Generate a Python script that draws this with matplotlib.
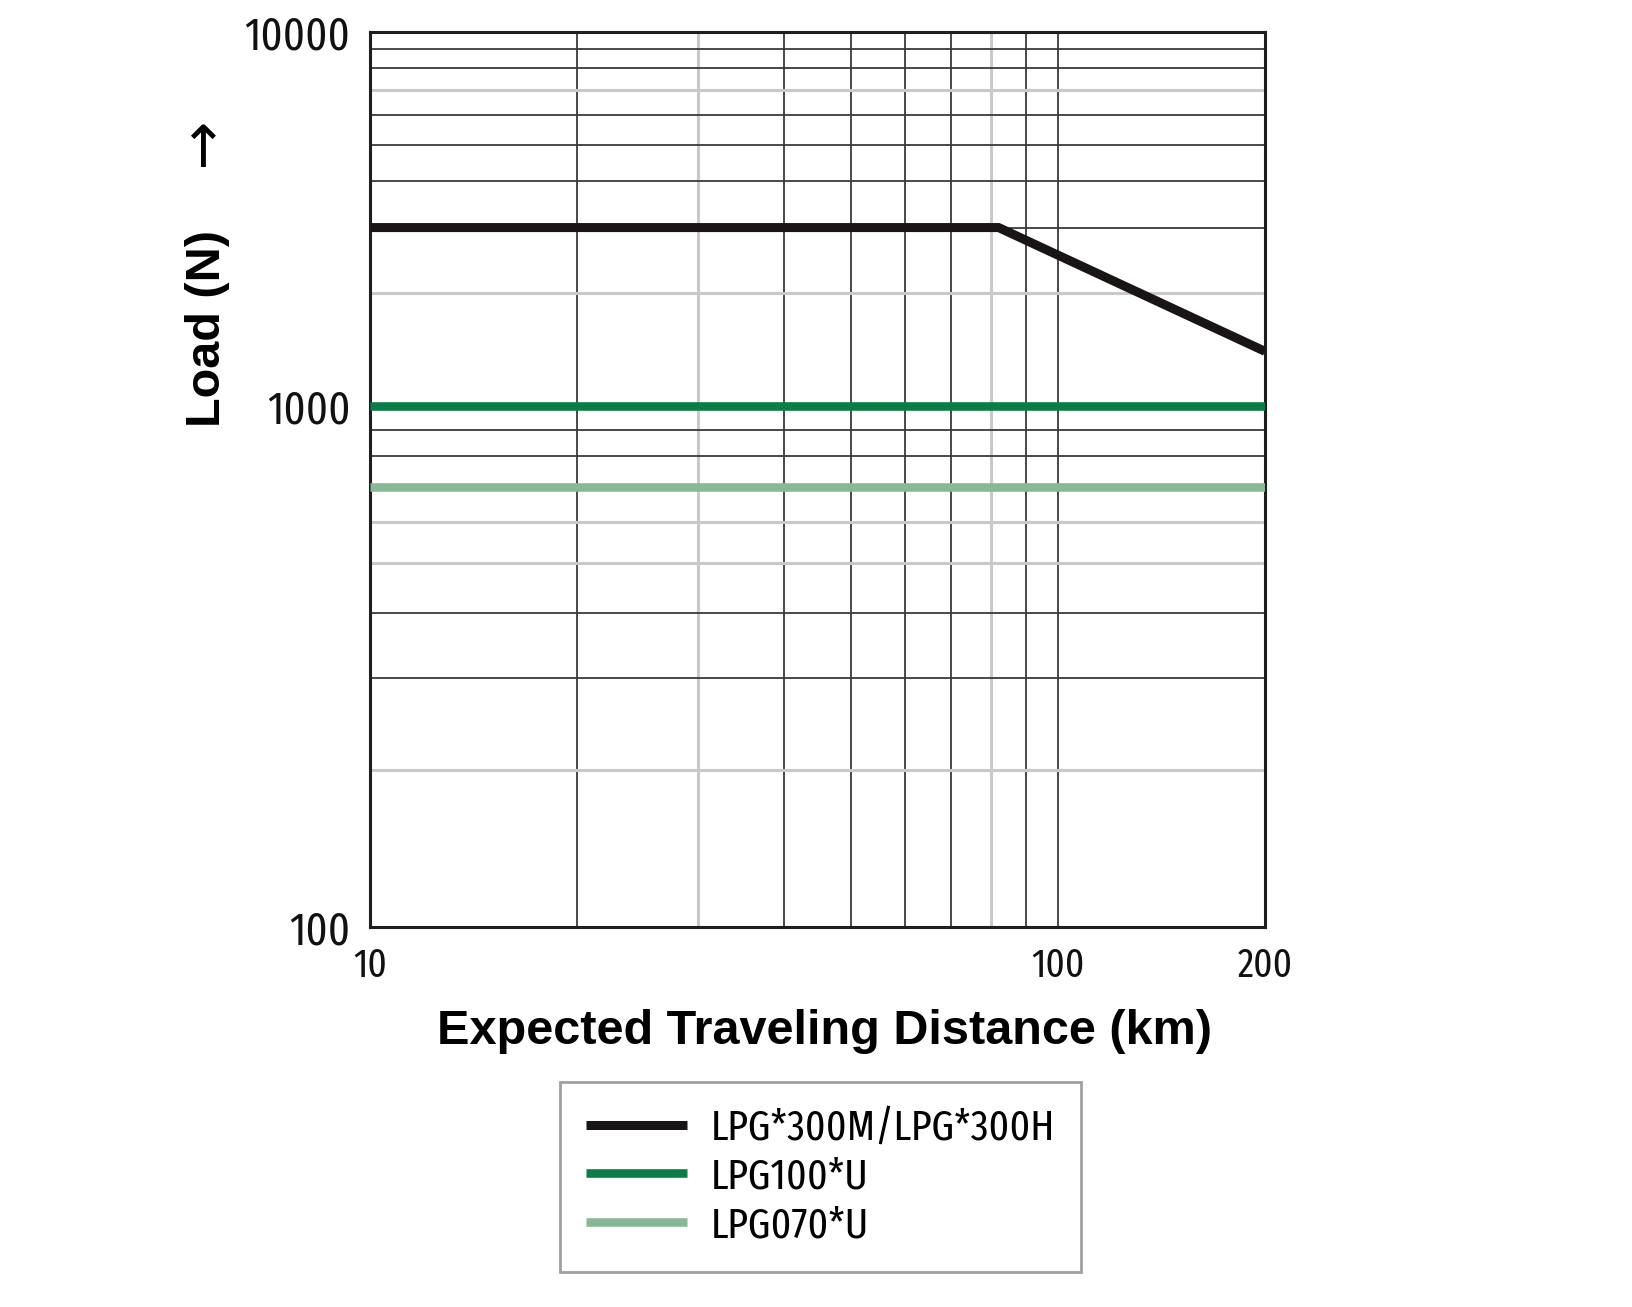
import numpy as np
import matplotlib
matplotlib.use("Agg")
import matplotlib.pyplot as plt
from matplotlib import font_manager as fm
from matplotlib.ticker import NullFormatter

# data
distance_300 = [10, 82, 200]
load_300 = [3000, 3000, 1400]
distance_100 = [10, 200]
load_100 = [1000, 1000]
distance_070 = [10, 200]
load_070 = [700, 700]

series_labels = ["LPG*300M/LPG*300H", "LPG100*U", "LPG070*U"]
series_colors = ["#1a1515", "#0d7d47", "#88b896"]

x_ticks = [10, 100, 200]
x_ticklabels = ["10", "100", "200"]
x_grid = [20, 30, 40, 50, 60, 70, 80, 90, 100]
x_grid_light = [30, 80]

y_ticks = [100, 1000, 10000]
y_ticklabels = ["100", "1000", "10000"]
y_grid = [200, 300, 400, 500, 600, 700, 800, 900,
          2000, 3000, 4000, 5000, 6000, 7000, 8000, 9000]
y_grid_light = [200, 500, 600, 2000, 7000]

names = set(f.name for f in fm.fontManager.ttflist)


def pick(cands):
    for c in cands:
        if c in names:
            return c
    return "DejaVu Sans"


narrow = pick(["Fira Sans Extra Condensed", "Roboto Condensed", "Liberation Sans Narrow"])
bold_font = pick(["Liberation Sans", "Arial"])
text_weight = 360

# the printed chart gives the lower decade more room than the upper one
LO = 1.393


def fwd(v):
    t = np.log10(np.clip(v, 1e-9, None))
    return np.where(t < 3, (t - 3) * LO, t - 3)


def inv(u):
    return np.where(u < 0, 10 ** (u / LO + 3), 10 ** (u + 3))


fig = plt.figure(figsize=(16.32, 13.07), dpi=100)
ax = fig.add_axes([370 / 1632, 1 - 927 / 1307, 895 / 1632, 895 / 1307])

ax.set_xscale("log")
ax.set_yscale("function", functions=(fwd, inv))
ax.set_xlim(10, 200)
ax.set_ylim(100, 10000)

for v in x_grid:
    light = v in x_grid_light
    ax.axvline(v, color="#c9c9c9" if light else "#3a3a3a", lw=2.2 if light else 1.3, zorder=1)
for v in y_grid:
    light = v in y_grid_light
    ax.axhline(v, color="#c9c9c9" if light else "#3a3a3a", lw=2.2 if light else 1.3, zorder=1)

ax.plot(distance_300, load_300, color=series_colors[0], lw=6.5, label=series_labels[0],
        solid_capstyle="butt", solid_joinstyle="miter", zorder=3)
ax.plot(distance_100, load_100, color=series_colors[1], lw=6.2, label=series_labels[1],
        solid_capstyle="butt", zorder=3)
ax.plot(distance_070, load_070, color=series_colors[2], lw=6.2, label=series_labels[2],
        solid_capstyle="butt", zorder=3)

ax.set_xticks(x_ticks, x_ticklabels)
ax.set_xticks(x_grid[:-1], minor=True)
ax.xaxis.set_minor_formatter(NullFormatter())
ax.set_yticks(y_ticks, y_ticklabels)
ax.set_yticks(y_grid, minor=True)
ax.yaxis.set_minor_formatter(NullFormatter())
ax.tick_params(which="both", length=0)
ax.tick_params(axis="x", pad=14, labelsize=29, labelcolor="#111111")
ax.tick_params(axis="y", pad=14, labelsize=33, labelcolor="#111111")
for lab in ax.get_xticklabels() + ax.get_yticklabels():
    lab.set_family([narrow, "DejaVu Sans"])
    lab.set_fontweight(text_weight)

for s in ax.spines.values():
    s.set_linewidth(2.2)
    s.set_color("#1e1e1e")

ax.set_xlabel("Expected Traveling Distance (km)", fontsize=35, fontweight="bold",
              family=bold_font, va="center")
ax.xaxis.set_label_coords(0.508, -0.1173)
ax.set_ylabel("Load (N)", fontsize=35, fontweight="bold", family=bold_font,
              va="center", ha="center")
ax.yaxis.set_label_coords(-0.182, 0.669)
ax.text(-0.1866, 0.868, "\u2191", transform=ax.transAxes, fontsize=42,
        family="DejaVu Sans", ha="center", va="center")

leg = fig.legend(loc="upper left", bbox_to_anchor=(560 / 1632, 1 - 1082 / 1307),
                 prop={"family": [narrow, "DejaVu Sans"], "size": 31, "weight": text_weight},
                 handlelength=2.35, handletextpad=0.55, borderpad=0.6,
                 labelspacing=0.18, borderaxespad=0, fancybox=False,
                 edgecolor="#a0a0a0", framealpha=1)
leg.get_frame().set_linewidth(2)

fig.savefig("out.png", dpi=100)
